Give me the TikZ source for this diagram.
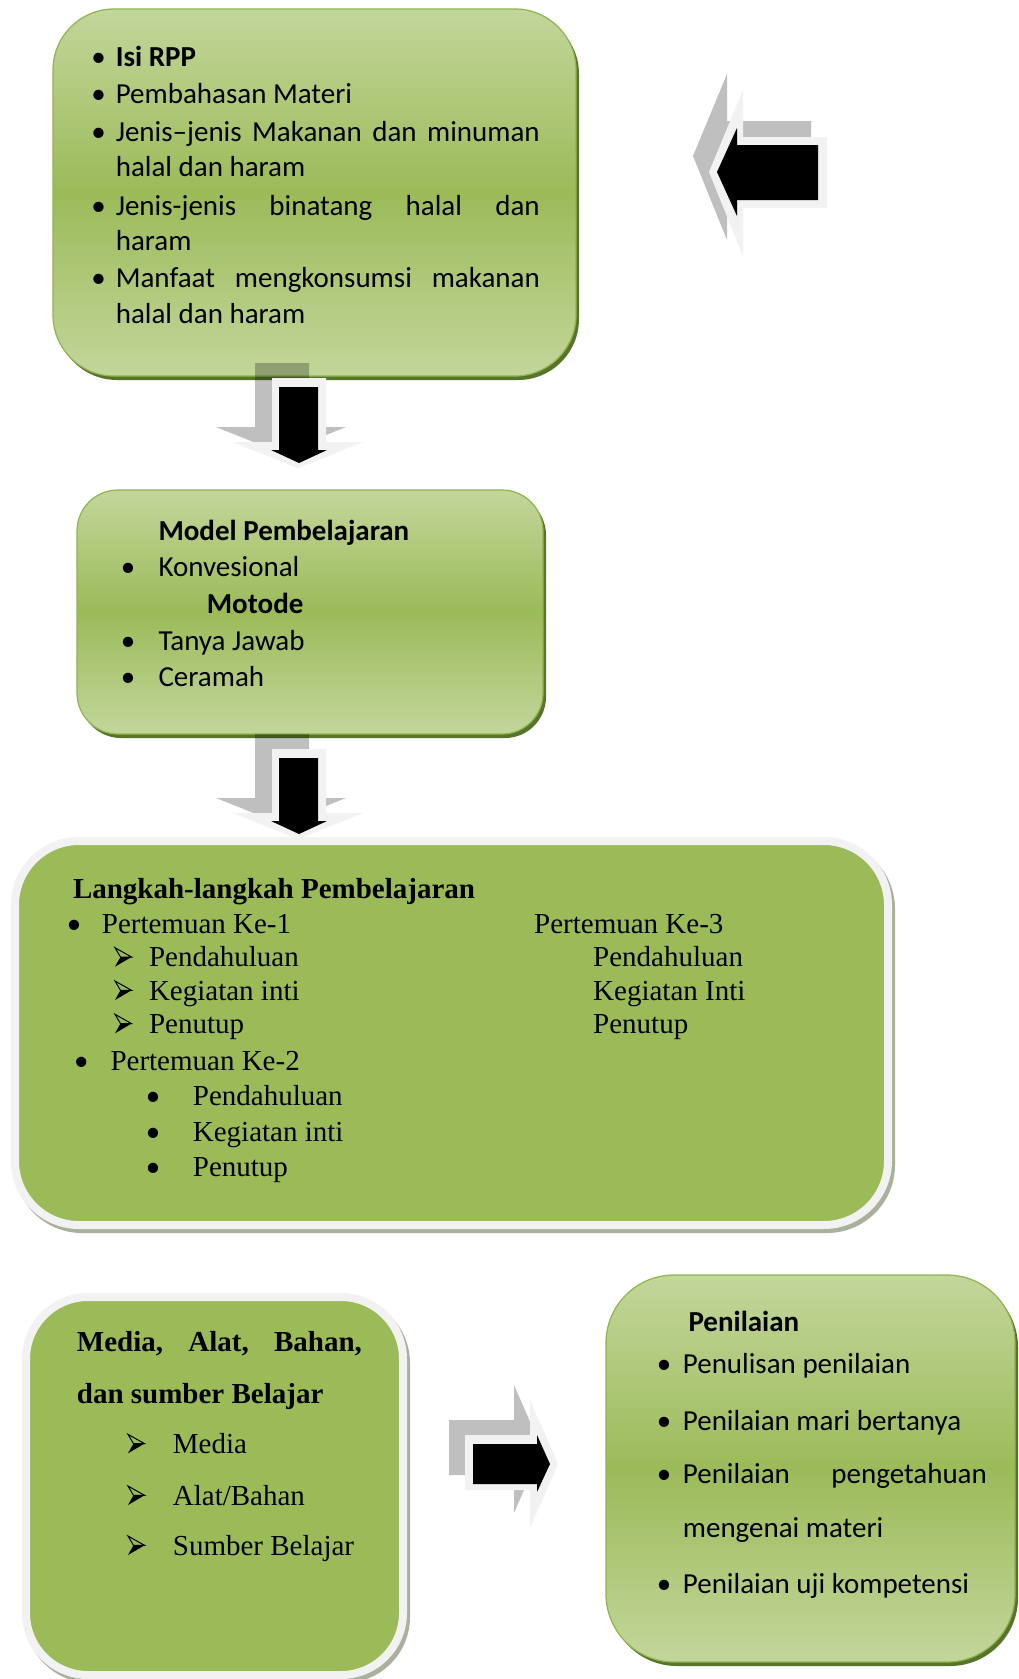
\documentclass[tikz,border=0pt]{standalone}
\usepackage{fontspec}
\setmainfont{Carlito}
\newfontfamily\tnr{Liberation Serif}
\definecolor{glight}{HTML}{C3D69B}
\definecolor{gmid}{HTML}{9BBB59}
\definecolor{gedge}{HTML}{90B44E}
\definecolor{gshadow}{HTML}{56752A}
\definecolor{wborder}{HTML}{F2F2F2}
\definecolor{gshade}{HTML}{A9B09C}
\begin{document}
\begin{tikzpicture}[x=1pt,y=-1pt,
  gbox/.style={draw=gedge, line width=1.2pt, top color=glight, bottom color=glight, middle color=gmid, inner sep=0pt, outer sep=0pt},
  shadowbox/.style={fill=gshadow, draw=none, inner sep=0pt, outer sep=0pt},
  wbox/.style={draw=wborder, line width=8pt, fill=gmid, inner sep=0pt, outer sep=0pt},
  wshadow/.style={draw=gshade, line width=8pt, fill=gshade, inner sep=0pt, outer sep=0pt},
  cal/.style={anchor=base west, inner sep=0pt, font=\fontsize{29}{35}\selectfont},
  calb/.style={anchor=base west, inner sep=0pt, font=\fontsize{29}{35}\selectfont\bfseries},
  bul/.style={anchor=base, inner sep=0pt, font=\fontsize{29}{35}\selectfont},
  tms/.style={anchor=base west, inner sep=0pt, font=\tnr\fontsize{29}{35}\selectfont},
  tmsb/.style={anchor=base west, inner sep=0pt, font=\tnr\fontsize{29}{35}\selectfont\bfseries},
  arrshadow/.style={fill=black, fill opacity=0.25, draw=none},
  arrwhite/.style={fill=wborder, draw=none},
  arrblack/.style={fill=black, draw=none},
  arrowbul/.pic={
    \draw[line width=1pt, line join=miter] (-8,-19) -- (8.5,-9.7) -- (-2.5,-9.7) -- cycle;
    \fill (-2.5,-9.7) -- (8.5,-9.7) -- (-8,0) -- cycle;
  }]
\useasboundingbox (0,0) rectangle (1019,1679);
\fill[white] (0,0) rectangle (1019,1679);

% ---------- Box 1 ----------
\node[shadowbox, minimum width=523pt, minimum height=367pt, rounded corners=61pt] (b1s) at (317.5,196.5) {};
\node[gbox, minimum width=523pt, minimum height=367pt, rounded corners=61pt] (b1) at (314.5,192.5) {};

% ---------- Box 2 ----------
\node[shadowbox, minimum width=466pt, minimum height=244pt, rounded corners=41pt] (b2s) at (313,616) {};
\node[gbox, minimum width=466pt, minimum height=244pt, rounded corners=41pt] (b2) at (310,612) {};

% ---------- Box 3 ----------
\node[wshadow, minimum width=873pt, minimum height=384pt, rounded corners=64pt] (b3s) at (454.5,1037) {};
\node[wbox, minimum width=873pt, minimum height=384pt, rounded corners=64pt] (b3) at (451.5,1033) {};

% ---------- Box 4 ----------
\node[wshadow, minimum width=377pt, minimum height=378pt, rounded corners=62pt] (b4s) at (217.5,1490) {};
\node[wbox, minimum width=377pt, minimum height=378pt, rounded corners=62pt] (b4) at (214.5,1486) {};

% ---------- Box 5 ----------
\node[shadowbox, minimum width=409pt, minimum height=387pt, rounded corners=68pt] (b5s) at (813.5,1472.5) {};
\node[gbox, minimum width=409pt, minimum height=387pt, rounded corners=68pt] (b5) at (810.5,1468.5) {};

% ---------- Left arrow (top right) ----------
\fill[arrshadow] (693,156) -- (727,74) -- (727,121) -- (811,121) -- (811,192) -- (727,192) -- (727,240) -- cycle;
\fill[arrwhite] (709,172) -- (743,90) -- (743,137) -- (827,137) -- (827,208) -- (743,208) -- (743,256) -- cycle;
\fill[arrblack] (717,172) -- (737,128) -- (737,145) -- (818,145) -- (818,200) -- (737,200) -- (737,216) -- cycle;

% ---------- Down arrow 1 ----------
\fill[arrshadow] (255,363) -- (309,363) -- (309,427) -- (346,427) -- (281,453) -- (216,427) -- (255,427) -- cycle;
\fill[arrwhite] (272,378) -- (326,378) -- (326,442) -- (363,442) -- (298,468) -- (233,442) -- (272,442) -- cycle;
\fill[arrblack] (279,387) -- (318,387) -- (318,450) -- (327,450) -- (299,463) -- (271,450) -- (279,450) -- cycle;

% ---------- Down arrow 2 ----------
\begin{scope}[yshift=-371pt]
\fill[arrshadow] (255,363) -- (309,363) -- (309,427) -- (346,427) -- (281,453) -- (216,427) -- (255,427) -- cycle;
\fill[arrwhite] (272,378) -- (326,378) -- (326,442) -- (363,442) -- (298,468) -- (233,442) -- (272,442) -- cycle;
\fill[arrblack] (279,387) -- (318,387) -- (318,450) -- (327,450) -- (299,463) -- (271,450) -- (279,450) -- cycle;
\end{scope}

% ---------- Right arrow ----------
\fill[arrshadow] (449,1420) -- (514,1420) -- (514,1385) -- (542,1449) -- (514,1513) -- (514,1475) -- (449,1475) -- cycle;
\fill[arrwhite] (465,1435) -- (530,1435) -- (530,1400) -- (558,1464) -- (530,1528) -- (530,1490) -- (465,1490) -- cycle;
\fill[arrblack] (473,1444) -- (537,1444) -- (537,1435) -- (550,1464) -- (537,1492) -- (537,1484) -- (473,1484) -- cycle;

% ---------- Box 1 text ----------
\node[bul] (b1u1) at (98.5,66.7) {•};
\node[calb] (b1t1) at (115.6,66.7) {Isi RPP};
\node[bul] (b1u2) at (98.5,103.3) {•};
\node[cal] (b1t2) at (115.6,103.3) {Pembahasan Materi};
\node[bul] (b1u3) at (98.5,141.7) {•};
\node[cal] (b1t3) at (115.6,141.7) {\makebox[424pt][s]{Jenis–jenis Makanan dan minuman}};
\node[cal] (b1t4) at (115.6,176.7) {halal dan haram};
\node[bul] (b1u5) at (98.5,215) {•};
\node[cal] (b1t5) at (115.6,215) {\makebox[424pt][s]{Jenis-jenis binatang halal dan}};
\node[cal] (b1t6) at (115.6,250) {haram};
\node[bul] (b1u7) at (98.5,287.3) {•};
\node[cal] (b1t7) at (115.6,287.3) {\makebox[424pt][s]{Manfaat mengkonsumsi makanan}};
\node[cal] (b1t8) at (115.6,323.3) {halal dan haram};

% ---------- Box 2 text ----------
\node[calb] (b2t1) at (158.3,540) {Model Pembelajaran};
\node[bul] (b2u2) at (128,576.7) {•};
\node[cal] (b2t2) at (158.3,576.7) {Konvesional};
\node[calb] (b2t3) at (206.7,613.3) {Motode};
\node[bul] (b2u4) at (128,650) {•};
\node[cal] (b2t4) at (158.3,650) {Tanya Jawab};
\node[bul] (b2u5) at (128,686.7) {•};
\node[cal] (b2t5) at (158.3,686.7) {Ceramah};

% ---------- Box 3 text ----------
\node[tmsb] (b3t0) at (72.8,898.3) {Langkah-langkah Pembelajaran};
\node[bul] (b3u1) at (74,933.3) {•};
\node[tms] (b3t1) at (101.7,933.3) {Pertemuan Ke-1};
\pic (b3a1) at (123,966.7) {arrowbul};
\node[tms] (b3t2) at (148.8,966.7) {Pendahuluan};
\pic (b3a2) at (123,1000) {arrowbul};
\node[tms] (b3t3) at (148.8,1000) {Kegiatan inti};
\pic (b3a3) at (123,1033.3) {arrowbul};
\node[tms] (b3t4) at (148.8,1033.3) {Penutup};
\node[bul] (b3u5) at (81.4,1070) {•};
\node[tms] (b3t5) at (110.3,1070) {Pertemuan Ke-2};
\node[bul] (b3u6) at (153,1105) {•};
\node[tms] (b3t6) at (192.7,1105) {Pendahuluan};
\node[bul] (b3u7) at (153,1141.7) {•};
\node[tms] (b3t7) at (192.7,1141.7) {Kegiatan inti};
\node[bul] (b3u8) at (153,1176.7) {•};
\node[tms] (b3t8) at (192.7,1176.7) {Penutup};
\node[tms] (b3r1) at (534,933.3) {Pertemuan Ke-3};
\node[tms] (b3r2) at (593,966.7) {Pendahuluan};
\node[tms] (b3r3) at (593,1000) {Kegiatan Inti};
\node[tms] (b3r4) at (593,1033.3) {Penutup};

% ---------- Box 4 text ----------
\node[tmsb] (b4t1) at (76.7,1351.7) {\makebox[285pt][s]{Media, Alat, Bahan,}};
\node[tmsb] (b4t2) at (76.7,1403.3) {dan sumber Belajar};
\pic (b4a3) at (136,1453.3) {arrowbul};
\node[tms] (b4t3) at (172.7,1453.3) {Media};
\pic (b4a4) at (136,1505) {arrowbul};
\node[tms] (b4t4) at (172.7,1505) {Alat/Bahan};
\pic (b4a5) at (136,1555) {arrowbul};
\node[tms] (b4t5) at (172.7,1555) {Sumber Belajar};

% ---------- Box 5 text ----------
\node[calb] (b5t0) at (688.3,1331.7) {Penilaian};
\node[bul] (b5u1) at (664,1373.3) {•};
\node[cal] (b5t1) at (682.7,1373.3) {Penulisan penilaian};
\node[bul] (b5u2) at (664,1430) {•};
\node[cal] (b5t2) at (682.7,1430) {Penilaian mari bertanya};
\node[bul] (b5u3) at (664,1483.3) {•};
\node[cal] (b5t3) at (682.7,1483.3) {\makebox[304pt][s]{Penilaian pengetahuan}};
\node[cal] (b5t4) at (682.7,1537.3) {mengenai materi};
\node[bul] (b5u5) at (664,1593.3) {•};
\node[cal] (b5t5) at (682.7,1593.3) {Penilaian uji kompetensi};
\end{tikzpicture}
\end{document}
